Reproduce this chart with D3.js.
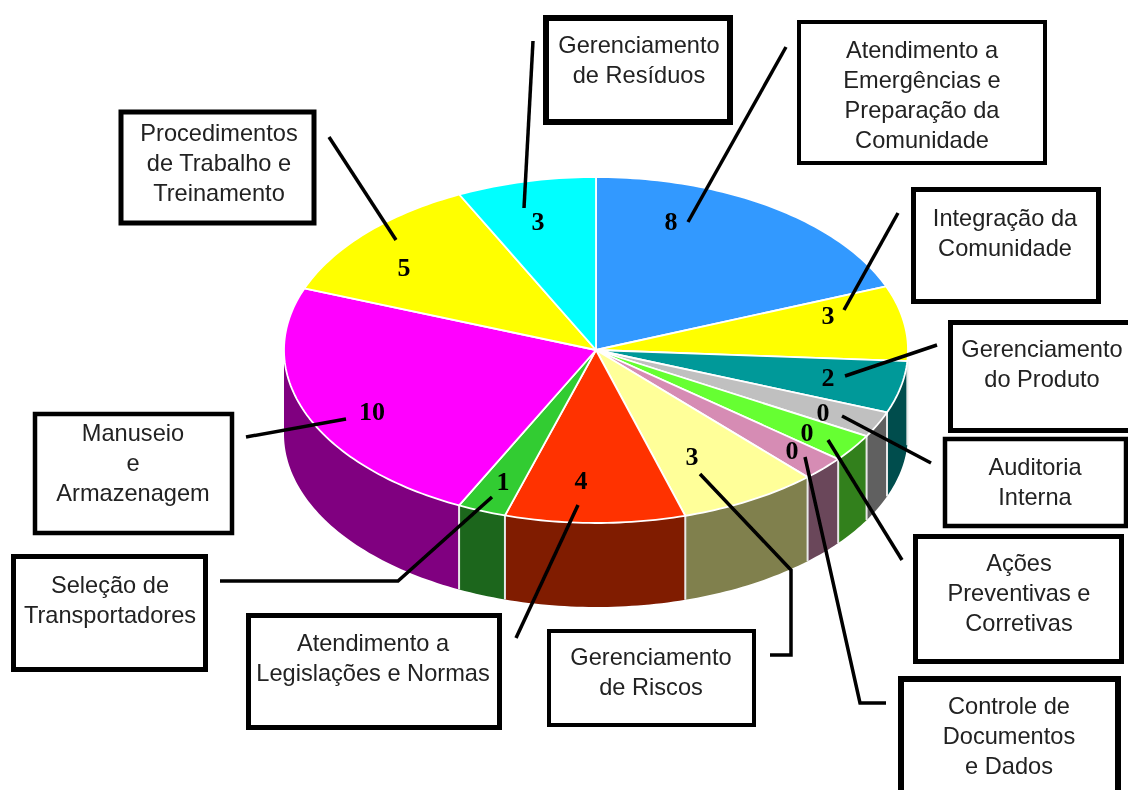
<!DOCTYPE html>
<html>
<head>
<meta charset="utf-8">
<style>
html, body { margin: 0; padding: 0; background: #fff; overflow: hidden; }
svg { display: block; }
</style>
<script src="https://cdn.jsdelivr.net/npm/d3@7"></script>
</head>
<body>
<div id="chart"></div>
<script>
var w = 1128, h = 790;

// clockwise from 12 o'clock
var categories = [
	"Atendimento a\nEmergências e\nPreparação da\nComunidade",
	"Integração da\nComunidade",
	"Gerenciamento\ndo Produto",
	"Auditoria\nInterna",
	"Ações\nPreventivas e\nCorretivas",
	"Controle de\nDocumentos\ne Dados",
	"Gerenciamento\nde Riscos",
	"Atendimento a\nLegislações e Normas",
	"Seleção de\nTransportadores",
	"Manuseio\ne\nArmazenagem",
	"Procedimentos\nde Trabalho e\nTreinamento",
	"Gerenciamento\nde Resíduos"
];
// numbers printed on the slices
var printedValues = [8, 3, 2, 0, 0, 0, 3, 4, 1, 10, 5, 3];
// slice sizes as measured on the picture (the printed ones are rounded)
var sliceSizes = [8, 2.96, 2.04, 1.02, 1.08, 0.96, 3.05, 3.93, 1.06, 9.92, 5.05, 3.04];

var colors = ["#3399ff", "#ffff00", "#009999", "#c0c0c0", "#66ff33", "#d68cb4",
	"#ffff99", "#ff3300", "#33cc33", "#ff00ff", "#ffff00", "#00ffff"];

// callout layout, same order as categories: box, text centre, first line y, number, leader
var callouts = [
	{box: [799, 22, 246, 141], sw: 4, tx: 922, ty: 50, num: [671, 221], leader: [[786, 47], [688, 222]]},
	{box: [913.5, 189.5, 185, 112], sw: 5, tx: 1005, ty: 218, num: [828, 315], leader: [[898, 213], [844, 310]]},
	{box: [950.5, 322.5, 190, 108], sw: 5, tx: 1042, ty: 349, num: [828, 377], leader: [[937, 345], [845, 376]]},
	{box: [945, 439, 181, 87], sw: 4.5, tx: 1035, ty: 467, num: [823, 412], leader: [[931, 463], [842, 416]]},
	{box: [915.5, 536.5, 206, 125], sw: 5, tx: 1019, ty: 563, num: [807, 432], leader: [[902, 560], [828, 440]]},
	{box: [901, 679, 217, 130], sw: 6, tx: 1009, ty: 706, num: [792, 450], leader: [[886, 703], [860, 703], [805, 457]]},
	{box: [549, 631, 205, 94], sw: 4, tx: 651, ty: 657, num: [692, 456], leader: [[770, 655], [791, 655], [791, 570], [700, 474]]},
	{box: [248.5, 615.5, 251, 112], sw: 5, tx: 373, ty: 643, num: [581, 480], leader: [[516, 638], [578, 505]]},
	{box: [13.5, 556.5, 192, 113], sw: 5, tx: 110, ty: 585, num: [503, 481], leader: [[220, 581], [398, 581], [492, 497]]},
	{box: [35, 414, 197, 119], sw: 4.5, tx: 133, ty: 433, num: [372, 411], leader: [[246, 437], [346, 419]]},
	{box: [121, 112, 193, 111], sw: 5, tx: 219, ty: 133, num: [404, 267], leader: [[329, 137], [396, 240]]},
	{box: [546, 18, 184, 104], sw: 6, tx: 639, ty: 45, num: [538, 221], leader: [[533, 41], [524, 208]]}
];

var cx = 596, cy = 350, rx = 312, ry = 173, depth = 84;

var svg = d3.select("#chart")
	.append("svg")
	.attr("width", w)
	.attr("height", h);

// the reference is a soft, upscaled scan
svg.append("filter")
	.attr("id", "soft")
	.attr("filterUnits", "userSpaceOnUse")
	.attr("x", 0).attr("y", 0)
	.attr("width", w).attr("height", h)
	.append("feGaussianBlur")
	.attr("stdDeviation", 0.45);

var g = svg.append("g").attr("filter", "url(#soft)");

var x = d3.scaleLinear().domain([-1, 1]).range([cx - rx, cx + rx]);
var y = d3.scaleLinear().domain([-1, 1]).range([cy - ry, cy + ry]);

var slices = d3.pie().sort(null)(sliceSizes);

function rim(a0, a1) {
	var n = Math.max(2, Math.ceil((a1 - a0) / 0.02));
	return d3.range(n + 1).map(function(i) {
		var a = a0 + (a1 - a0) * i / n;
		return [x(Math.sin(a)), y(-Math.cos(a))];
	});
}

var line = d3.line();

function halfTone(c) {
	var r = d3.rgb(c);
	return d3.rgb(r.r * 0.5, r.g * 0.5, r.b * 0.5).formatHex();
}

// walls first, only the part of each slice that faces the viewer
var front = slices.filter(function(d) { return d.endAngle > Math.PI / 2 && d.startAngle < Math.PI * 1.5; });

g.selectAll("path.wall")
	.data(front)
	.enter()
	.append("path")
	.attr("class", "wall")
	.attr("d", function(d) {
		var top = rim(Math.max(d.startAngle, Math.PI / 2), Math.min(d.endAngle, Math.PI * 1.5));
		var bottom = top.slice().reverse().map(function(p) { return [p[0], p[1] + depth]; });
		return line(top.concat(bottom)) + "Z";
	})
	.style("fill", function(d) { return halfTone(colors[d.index]); });

// seams between the walls
g.selectAll("path.seam")
	.data(front.filter(function(d) { return d.startAngle > Math.PI / 2; }))
	.enter()
	.append("path")
	.attr("class", "seam")
	.attr("d", function(d) {
		var p = rim(d.startAngle, d.startAngle)[0];
		return line([p, [p[0], p[1] + depth]]);
	})
	.style("stroke", "#e8e8e8")
	.style("stroke-width", 2);

g.selectAll("path.top")
	.data(slices)
	.enter()
	.append("path")
	.attr("class", "top")
	.attr("d", function(d) {
		return line([[cx, cy]].concat(rim(d.startAngle, d.endAngle))) + "Z";
	})
	.style("fill", function(d) { return colors[d.index]; })
	.style("stroke", "#fff")
	.style("stroke-width", 1.8)
	.style("stroke-linejoin", "round");

// boxes
g.selectAll("rect.box")
	.data(callouts)
	.enter()
	.append("rect")
	.attr("class", "box")
	.attr("x", function(d) { return d.box[0]; })
	.attr("y", function(d) { return d.box[1]; })
	.attr("width", function(d) { return d.box[2]; })
	.attr("height", function(d) { return d.box[3]; })
	.style("fill", "#fff")
	.style("stroke", "#000")
	.style("stroke-width", function(d) { return d.sw; });

// leaders
g.selectAll("path.leader")
	.data(callouts)
	.enter()
	.append("path")
	.attr("class", "leader")
	.attr("d", function(d) { return line(d.leader); })
	.style("fill", "none")
	.style("stroke", "#000")
	.style("stroke-width", 3.5);

// box text
callouts.forEach(function(c, i) {
	categories[i].split("\n").forEach(function(t, j) {
		g.append("text")
			.attr("x", c.tx)
			.attr("y", c.ty + j * 30)
			.attr("dy", "0.35em")
			.attr("text-anchor", "middle")
			.style("font-family", "'Liberation Sans', Arial, sans-serif")
			.style("font-size", "23.6px")
			.style("fill", "#222")
			.text(t);
	});
});

// numbers on the slices
g.selectAll("text.num")
	.data(callouts)
	.enter()
	.append("text")
	.attr("class", "num")
	.attr("x", function(d) { return d.num[0]; })
	.attr("y", function(d) { return d.num[1]; })
	.attr("dy", "0.35em")
	.attr("text-anchor", "middle")
	.style("font-family", "'Liberation Serif', 'Times New Roman', serif")
	.style("font-weight", "bold")
	.style("font-size", "26px")
	.style("fill", "#000")
	.text(function(d, i) { return printedValues[i]; });
</script>
</body>
</html>
